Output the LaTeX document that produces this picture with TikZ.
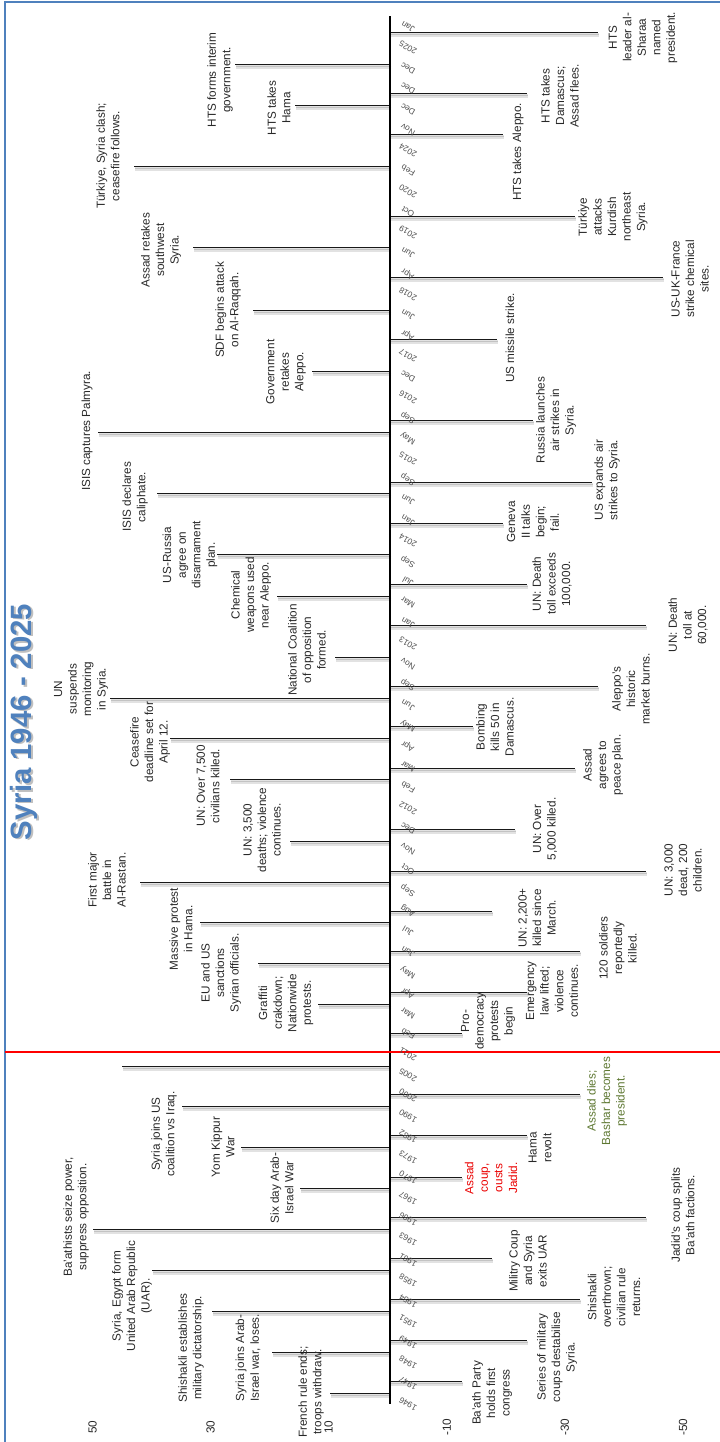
\documentclass[tikz,border=0pt]{standalone}
\usepackage{fontspec}
\setmainfont{Liberation Sans}
\definecolor{frameblue}{RGB}{79,129,189}
\definecolor{titleblue}{RGB}{79,129,189}
\definecolor{evtxt}{RGB}{40,40,40}
\definecolor{ticktxt}{RGB}{80,80,80}
\definecolor{bashargreen}{RGB}{94,120,50}
\definecolor{coupred}{RGB}{235,0,0}
\tikzset{
 evtext/.style={rotate=90, align=center, inner sep=0pt, font=\fontsize{8.8}{10.9}\selectfont},
 evline/.style={draw=black!90, line width=0.75pt},
 evshadow/.style={draw=black!22, line width=2.4pt, opacity=0.5},
 evshadowb/.style={draw=black!35, line width=1pt, opacity=0.5},
 ticklbl/.style={rotate=150, inner sep=0pt, font=\fontsize{6.3}{7}\selectfont, text=ticktxt},
 vallbl/.style={rotate=90, inner sep=0pt, font=\fontsize{8.8}{10}\selectfont, text=evtxt},
}
\newcommand{\evt}[7]{%
 \coordinate (#1a) at (390,#2);
 \coordinate (#1e) at (#3,#2);
 \draw[evshadow] ([xshift=1pt,yshift=-2.2pt]#1a) -- ([xshift=1pt,yshift=-2.2pt]#1e);
 \draw[evshadowb] ([xshift=1pt,yshift=-2pt]#1a) -- ([xshift=1pt,yshift=-2pt]#1e);
 \draw[evline] (#1a) -- (#1e);
 \node[evtext,text=#6] (#1) at (#4,#5) {#7};}
\begin{document}
\begin{tikzpicture}[x=0.75pt,y=-0.75pt]
\useasboundingbox (0,0) rectangle (720,1442);
\clip (0,0) rectangle (720,1442);
\fill[white] (0,0) rectangle (720,1442);
\draw[frameblue, line width=1.5pt] (5,2) rectangle (745,1470);
% title
\node[rotate=90, font=\fontsize{22}{26}\selectfont\bfseries, text=black!25] (titleshadow) at (25.5,723.5) {Syria 1946 - 2025};
\node[rotate=90, font=\fontsize{22}{26}\selectfont\bfseries, text=titleblue] (title) at (24,722) {Syria 1946 - 2025};
% right events
\evt{r1}{32}{598}{643}{37.5}{evtxt}{HTS\\leader al-\\Sharaa\\named\\president.}
\evt{r2}{93}{527}{560}{96}{evtxt}{HTS takes\\Damascus;\\Assad flees.}
\evt{r3}{134}{503}{518}{152}{evtxt}{HTS takes Aleppo.}
\evt{r4}{216}{575}{613}{217}{evtxt}{Türkiye\\attacks\\Kurdish\\northeast\\Syria.}
\evt{r5}{277}{663}{690}{279}{evtxt}{US-UK-France\\strike chemical\\sites.}
\evt{r6}{339}{497}{510}{338}{evtxt}{US missile strike.}
\evt{r7}{420}{533}{556}{420}{evtxt}{Russia launches\\air strikes in\\Syria.}
\evt{r8}{482}{592}{607}{480}{evtxt}{US expands air\\strikes to Syria.}
\evt{r9}{523}{503}{533}{522}{evtxt}{Geneva\\II talks\\begin;\\fail.}
\evt{r10}{584}{527}{552}{584}{evtxt}{UN: Death\\toll exceeds\\100,000.}
\evt{r11}{625}{646}{688}{625}{evtxt}{UN: Death\\toll at\\60,000.}
\evt{r12}{686}{598}{631}{689}{evtxt}{Aleppo’s\\historic\\market burns.}
\evt{r13}{726}{473}{495}{727}{evtxt}{Bombing\\kills 50 in\\Damascus.}
\evt{r14}{768}{575}{603}{765}{evtxt}{Assad\\agrees to\\peace plan.}
\evt{r15}{829}{515}{545}{829}{evtxt}{UN: Over\\5,000 killed.}
\evt{r16}{871}{646}{683}{870}{evtxt}{UN: 3,000\\dead, 200\\children.}
\evt{r17}{911}{492}{537}{918}{evtxt}{UN: 2,200+\\killed since\\March.}
\evt{r18}{951}{580}{618}{948}{evtxt}{120 soldiers\\reportedly\\killed.}
\evt{r19}{992}{527}{552}{991}{evtxt}{Emergency\\law lifted;\\violence\\continues.}
\evt{r20}{1033}{462}{488}{1021}{evtxt}{Pro-\\democracy\\protests\\begin}
\evt{r21}{1094}{580}{607}{1101}{bashargreen}{Assad dies;\\Bashar becomes\\president.}
\evt{r22}{1135}{527}{540}{1148}{evtxt}{Hama\\revolt}
\evt{r23}{1177}{462}{491}{1178}{coupred}{Assad\\coup,\\ousts\\Jadid.}
\evt{r24}{1217}{646}{683}{1215}{evtxt}{Jadid’s coup splits\\Ba’ath factions.}
\evt{r25}{1258}{492}{528}{1261}{evtxt}{Militry Coup\\and Syria\\exits UAR}
\evt{r26}{1299}{580}{614}{1297}{evtxt}{Shishakli\\overthrown;\\civilian rule\\returns.}
\evt{r27}{1340}{527}{557}{1357}{evtxt}{Series of military\\coups destabilise\\Syria.}
\evt{r28}{1381}{462}{492}{1393}{evtxt}{Ba’ath Party\\holds first\\congress}
% left events
\evt{l1}{64}{235}{220}{80}{evtxt}{HTS forms interim\\government.}
\evt{l2}{105}{295}{279}{108}{evtxt}{HTS takes\\Hama}
\evt{l3}{166}{134}{108}{156}{evtxt}{Türkiye, Syria clash;\\ceasefire follows.}
\evt{l4}{247}{193}{161}{250}{evtxt}{Assad retakes\\southwest\\Syria.}
\evt{l5}{310}{253}{228}{310}{evtxt}{SDF begins attack\\on Al-Raqqah.}
\evt{l6}{371}{312}{286}{372}{evtxt}{Government\\retakes\\Aleppo.}
\evt{l7}{432}{98}{87}{431}{evtxt}{ISIS captures Palmyra.}
\evt{l8}{493}{157}{135}{497}{evtxt}{ISIS declares\\caliphate.}
\evt{l9}{554}{217}{190}{555}{evtxt}{US-Russia\\agree on\\disarmament\\plan.}
\evt{l10}{596}{277}{251}{595}{evtxt}{Chemical\\weapons used\\near Aleppo.}
\evt{l11}{657}{335}{307}{650}{evtxt}{National Coalition\\of opposition\\formed.}
\evt{l12}{698}{110}{81}{689}{evtxt}{UN\\suspends\\monitoring\\in Syria.}
\evt{l13}{738}{170}{150}{742}{evtxt}{Ceasefire\\deadline set for\\April 12.}
\evt{l14}{779}{230}{208}{786}{evtxt}{UN: Over 7,500\\civilians killed.}
\evt{l15}{841}{290}{262}{830}{evtxt}{UN: 3,500\\deaths; violence\\continues.}
\evt{l16}{882}{140}{107}{880}{evtxt}{First major\\battle in\\Al-Rastan.}
\evt{l17}{922}{200}{181}{929}{evtxt}{Massive protest\\in Hama.}
\evt{l18}{963}{258}{221}{973}{evtxt}{EU and US\\sanctions\\Syrian officials.}
\evt{l19}{1004}{318}{286}{1003}{evtxt}{Graffiti\\crakdown;\\Nationwide\\protests.}
\coordinate (l20a) at (390,1066);
\coordinate (l20e) at (122,1066);
\draw[evshadow] ([xshift=1pt,yshift=-2.2pt]l20a) -- ([xshift=1pt,yshift=-2.2pt]l20e);
\draw[evshadowb] ([xshift=1pt,yshift=-2pt]l20a) -- ([xshift=1pt,yshift=-2pt]l20e);
\draw[evline] (l20a) -- (l20e);
\evt{l21}{1106}{182}{164}{1134}{evtxt}{Syria joins US\\coalition vs Iraq.}
\evt{l22}{1147}{241}{223}{1147}{evtxt}{Yom Kippur\\War}
\evt{l23}{1188}{300}{282}{1188}{evtxt}{Six day Arab-\\Israel War}
\evt{l24}{1229}{93}{76}{1217}{evtxt}{Ba’athists seize power,\\suppress opposition.}
\evt{l25}{1270}{152}{132}{1296}{evtxt}{Syria, Egypt form\\United Arab Republic\\(UAR).}
\evt{l26}{1311}{212}{191}{1348}{evtxt}{Shishakli establishes\\military dictatorship.}
\evt{l27}{1352}{272}{248}{1358}{evtxt}{Syria joins Arab-\\Israel war, loses.}
\evt{l28}{1393}{330}{311}{1392}{evtxt}{French rule ends;\\troops withdraw.}
% axis
\coordinate (axtop) at (390,16);
\coordinate (axbot) at (390,1404);
\draw[black, line width=1.5pt] (axtop) -- (axbot);
% red divider
\coordinate (redL) at (5,1052);
\coordinate (redR) at (720,1052);
\draw[red, line width=1.3pt] (redL) -- (redR);
% tick labels
\foreach \t [count=\j from 0] in {Jan,2025,Dec,Dec,Dec,Nov,2024,Feb,2020,Oct,2019,Jun,Apr,2018,Jun,Apr,2017,Dec,2016,Sep,May,2015,Sep,Jun,Jan,2014,Sep,Jul,Mar,Jan,2013,Nov,Sep,Jun,May,Apr,Mar,Feb,2012,Dec,Nov,Oct,Sep,Aug,Jul,Jun,May,Apr,Mar,Feb,2011,2005,2000,1990,1982,1973,1970,1967,1966,1963,1961,1958,1954,1951,1949,1948,1947,1946}
 \node[ticklbl] (tk\j) at (408,{27+\j*20.55}) {\t};
% value labels
\foreach \v/\x [count=\k] in {50/92.5,30/210.6,10/328.7,-10/446.8,-30/564.9,-50/683}
 \node[vallbl] (val\k) at (\x,1427) {\v};
\end{tikzpicture}
\end{document}
